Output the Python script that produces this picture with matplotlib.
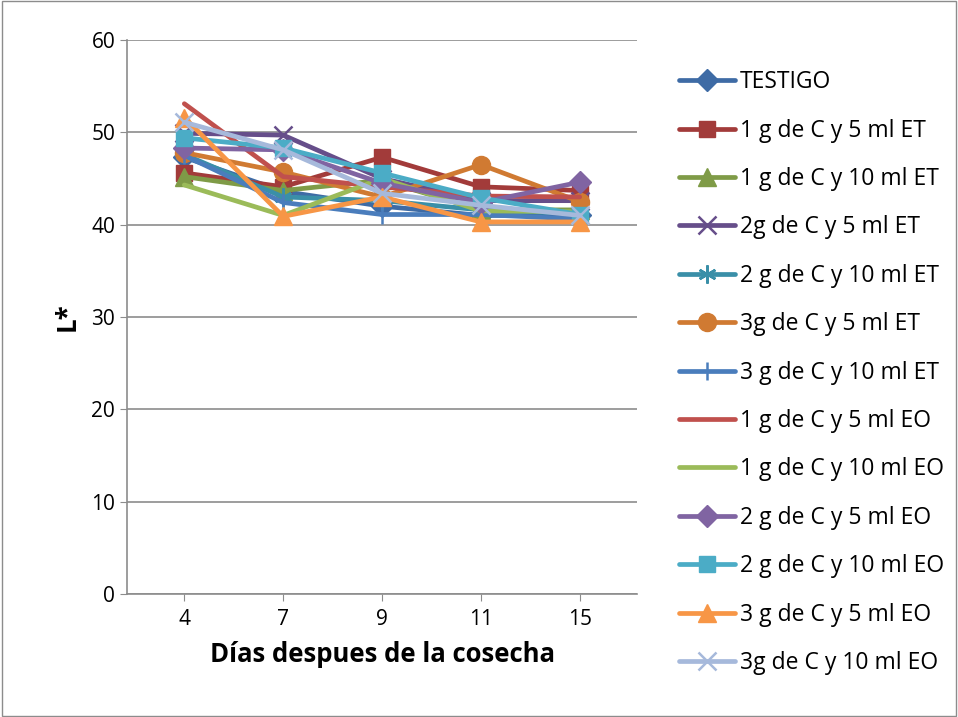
import matplotlib
matplotlib.use("Agg")
import matplotlib.pyplot as plt

plt.rcParams['font.family'] = ['Open Sans', 'DejaVu Sans']

days = ["4", "7", "9", "11", "15"]

testigo      = [47.3, 43.6, 42.0, 41.0, 41.0]
c1_et5       = [45.6, 44.1, 47.3, 44.1, 43.7]
c1_et10      = [45.2, 43.7, 44.8, 41.6, 41.6]
c2_et5       = [49.9, 49.7, 45.0, 42.6, 42.6]
c2_et10      = [47.6, 43.0, 42.6, 41.6, 41.2]
c3_et5       = [47.8, 45.7, 43.0, 46.5, 42.5]
c3_et10      = [47.5, 42.4, 41.1, 41.1, 40.6]
c1_eo5       = [53.1, 45.2, 44.1, 43.1, 43.0]
c1_eo10      = [44.3, 41.0, 45.0, 41.5, 41.4]
c2_eo5       = [48.3, 48.1, 44.5, 42.4, 44.6]
c2_eo10      = [49.4, 48.3, 45.6, 42.9, 41.1]
c3_eo5       = [51.6, 40.9, 43.0, 40.3, 40.3]
c3_eo10      = [51.1, 48.1, 43.4, 42.1, 41.0]

series = [
    ("TESTIGO", testigo, "#3E6BA5", "D", 11),
    ("1 g de C y 5 ml ET", c1_et5, "#A23B3A", "s", 12),
    ("1 g de C y 10 ml ET", c1_et10, "#7F9B47", "^", 13),
    ("2g de C y 5 ml ET", c2_et5, "#664E8A", "x", 13),
    ("2 g de C y 10 ml ET", c2_et10, "#3A8FA8", (6, 2, 0), 13),
    ("3g de C y 5 ml ET", c3_et5, "#D07A32", "o", 13),
    ("3 g de C y 10 ml ET", c3_et10, "#4A7DBC", "|", 13),
    ("1 g de C y 5 ml EO", c1_eo5, "#C0504D", None, 0),
    ("1 g de C y 10 ml EO", c1_eo10, "#9BBB59", None, 0),
    ("2 g de C y 5 ml EO", c2_eo5, "#8064A2", "D", 11),
    ("2 g de C y 10 ml EO", c2_eo10, "#4BACC6", "s", 12),
    ("3 g de C y 5 ml EO", c3_eo5, "#F79646", "^", 13),
    ("3g de C y 10 ml EO", c3_eo10, "#A6B9DB", "x", 13),
]

fig = plt.figure(figsize=(9.58, 7.17), dpi=100)
ax = fig.add_axes([127 / 958, 1 - 594 / 717, 510 / 958, 554 / 717])

x = list(range(len(days)))
handles = []
for name, vals, col, mk, ms in series:
    kw = dict(color=col, lw=3.4, solid_capstyle='round', solid_joinstyle='round')
    if mk is not None:
        thin = mk in ("x", "|") or isinstance(mk, tuple)
        kw.update(marker=mk, markersize=ms, markerfacecolor=col,
                  markeredgecolor=col, markeredgewidth=1.8 if thin else 1.0)
    ln, = ax.plot(x, vals, label=name, **kw)
    handles.append(ln)

ax.set_xlim(-0.58, len(days) - 0.42)
ax.set_ylim(0, 60)
ax.set_yticks(range(0, 61, 10))
ax.set_xticks(x)
ax.set_xticklabels(days)
ax.yaxis.grid(True, color="#8C8C8C", lw=1.2)
ax.set_axisbelow(True)
for s in ("top", "right"):
    ax.spines[s].set_visible(False)
for s in ("left", "bottom"):
    ax.spines[s].set_color("#8C8C8C")
    ax.spines[s].set_linewidth(1.2)
ax.tick_params(axis="both", labelsize=15, color="#8C8C8C", length=5)
ax.tick_params(axis="x", direction="out", pad=6)
ax.set_xlabel("Días despues de la cosecha", fontsize=18.5, fontweight="bold", labelpad=8)
ax.set_ylabel("L*", fontsize=18.5, fontweight="bold", labelpad=8)

leg = fig.legend(handles=handles, loc="upper left", bbox_to_anchor=(670 / 958, 1 - 61 / 717),
                 frameon=False, fontsize=16.5, handlelength=2.45, labelspacing=1.065,
                 handletextpad=0.2, borderaxespad=0)

border = plt.Rectangle((0.002, 0.002), 0.996, 0.996, transform=fig.transFigure,
                       fill=False, edgecolor="#8C8C8C", lw=1.0)
fig.patches.append(border)

fig.savefig("out.png", dpi=100)
